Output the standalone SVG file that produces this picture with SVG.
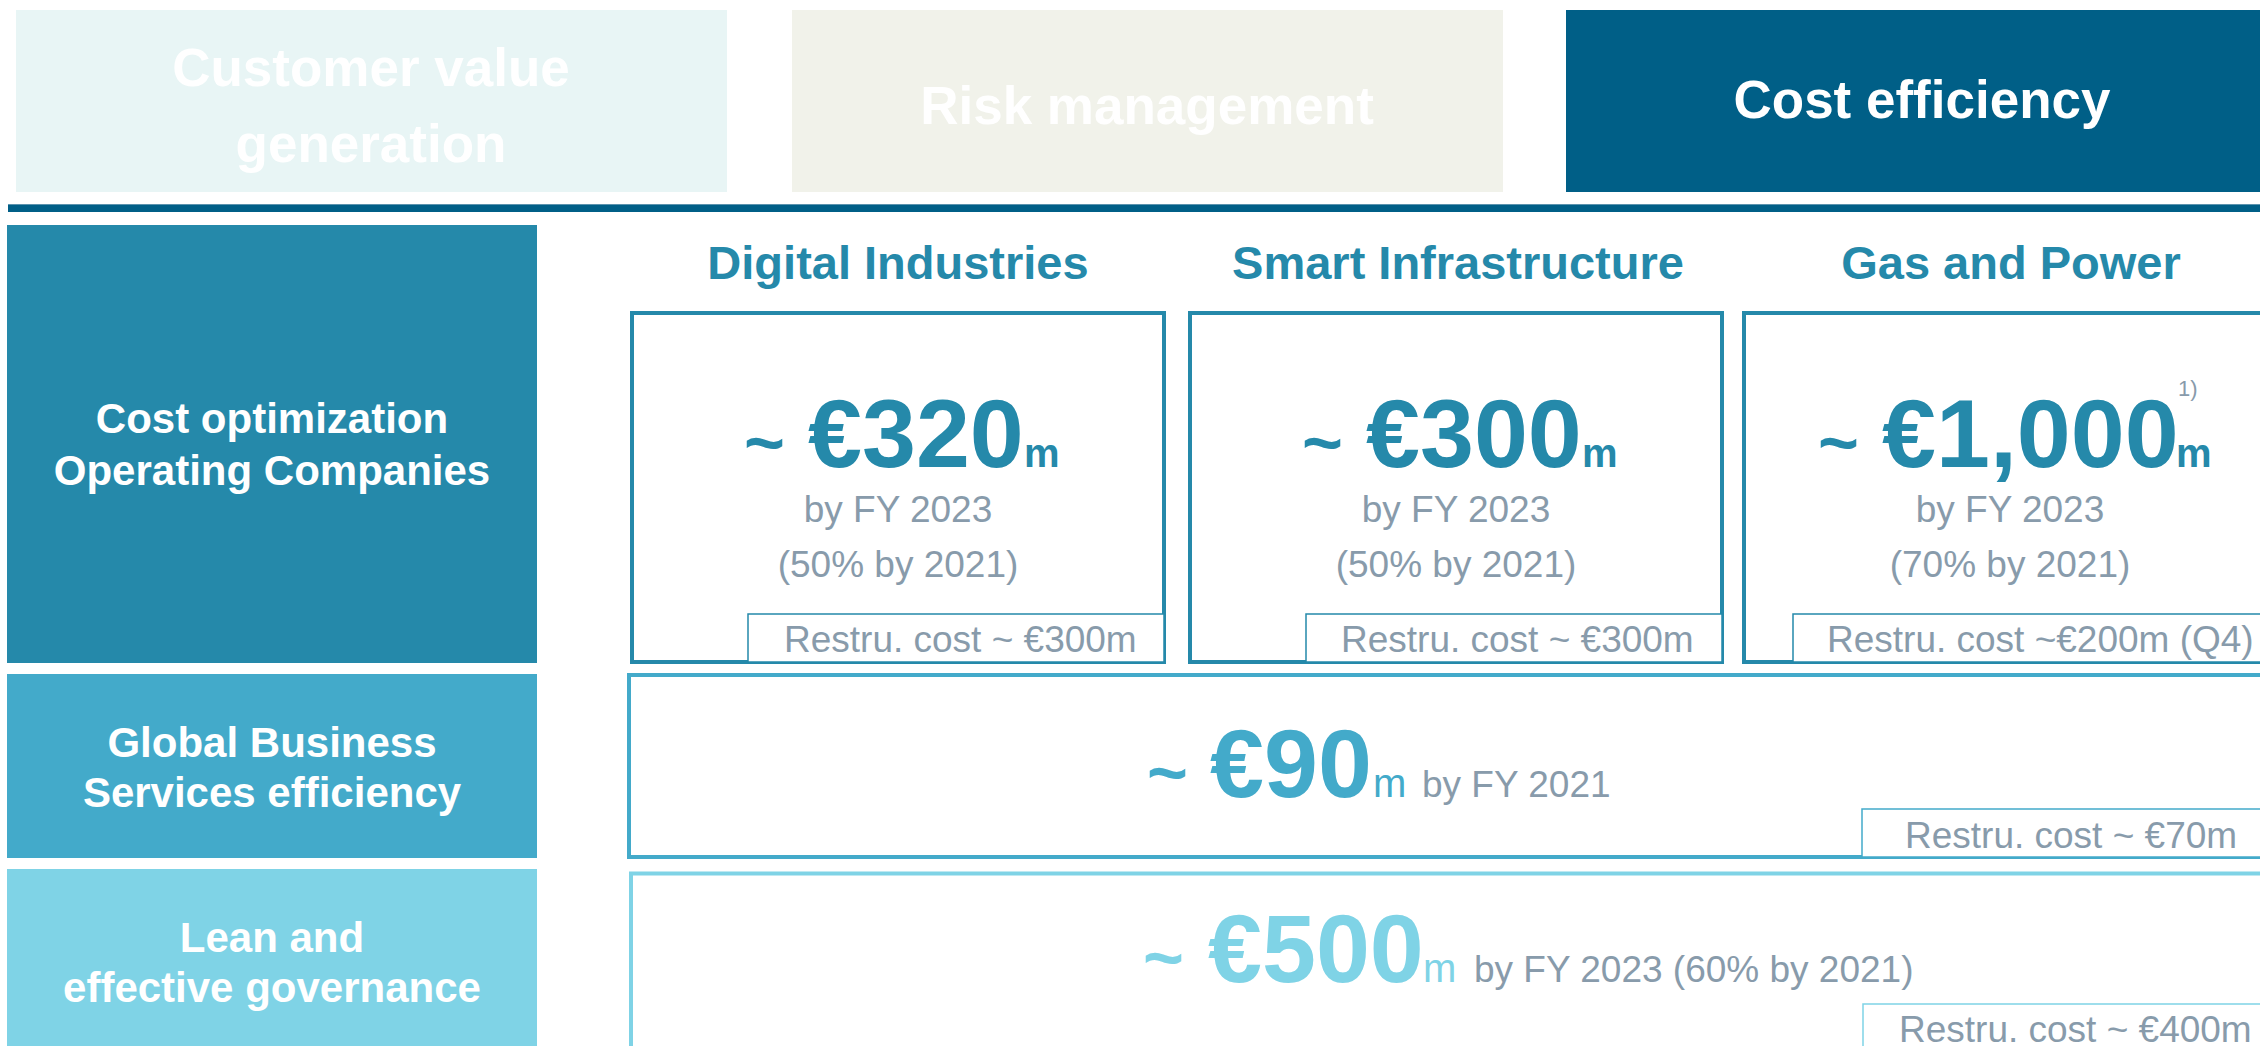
<svg xmlns="http://www.w3.org/2000/svg" width="2260" height="1046" viewBox="0 0 2260 1046">
<style>
  text { font-family: "Liberation Sans", Arial, sans-serif; }
  .top { font-size: 53px; font-weight: bold; fill: #ffffff; text-anchor: middle; }
  .lbl { font-size: 42px; font-weight: bold; fill: #ffffff; text-anchor: middle; }
  .seg { font-size: 47px; font-weight: bold; fill: #2589AA; text-anchor: middle; }
  .sub { font-size: 37px; fill: #889BAB; }
  .mid { text-anchor: middle; }
  .tilde { font-size: 70px; font-weight: bold; }
  .big { font-size: 97px; font-weight: bold; }
  .mb { font-size: 40px; font-weight: bold; }
  .mr { font-size: 40px; }
  .sup { font-size: 22px; fill: #889BAB; }
  .c1 { fill: #2589AA; }
  .c2 { fill: #43AACA; }
  .c3 { fill: #7FD3E6; }
  .box1 { fill: #ffffff; stroke: #2589AA; stroke-width: 4; }
  .box2 { fill: #ffffff; stroke: #43AACA; stroke-width: 4; }
  .box3 { fill: #ffffff; stroke: #7FD3E6; stroke-width: 4; }
  .rb1 { fill: #ffffff; stroke: #2589AA; stroke-width: 1.5; }
  .rb2 { fill: #ffffff; stroke: #43AACA; stroke-width: 1.5; }
  .rb3 { fill: #ffffff; stroke: #7FD3E6; stroke-width: 1.5; }
</style>
<rect x="0" y="0" width="2260" height="1046" fill="#ffffff"/>

<g id="tab-customer-value">
  <rect x="16" y="10" width="711" height="182" fill="#E8F5F5"/>
  <text class="top" x="371" y="86">Customer value</text>
  <text class="top" x="371" y="162">generation</text>
</g>
<g id="tab-risk-management">
  <rect x="792" y="10" width="711" height="182" fill="#F1F2EA"/>
  <text class="top" x="1147" y="124">Risk management</text>
</g>
<g id="tab-cost-efficiency">
  <rect x="1566" y="10" width="714" height="182" fill="#005F87"/>
  <text class="top" x="1922" y="118">Cost efficiency</text>
</g>
<g id="divider">
  <rect x="8" y="204" width="2252" height="8" fill="#005F87"/>
  <rect x="8" y="204" width="2252" height="1" fill="#5B93AE"/>
</g>

<g id="row-cost-optimization">
  <rect x="7" y="225" width="530" height="438" fill="#2589AA"/>
  <text class="lbl" x="272" y="433">Cost optimization</text>
  <text class="lbl" x="272" y="485">Operating Companies</text>
</g>
<g id="row-gbs">
  <rect x="7" y="674" width="530" height="184" fill="#43AACA"/>
  <text class="lbl" x="272" y="757">Global Business</text>
  <text class="lbl" x="272" y="807">Services efficiency</text>
</g>
<g id="row-lean">
  <rect x="7" y="869" width="530" height="190" fill="#7FD3E6"/>
  <text class="lbl" x="272" y="952">Lean and</text>
  <text class="lbl" x="272" y="1002">effective governance</text>
</g>

<g id="digital-industries">
  <text class="seg" x="898" y="279">Digital Industries</text>
  <rect class="box1" x="632" y="313" width="532" height="349"/>
  <text class="c1" y="467"><tspan class="tilde" x="744">~</tspan><tspan class="big" x="808">€320</tspan><tspan class="mb" x="1024">m</tspan></text>
  <text class="sub mid" x="898" y="522">by FY 2023</text>
  <text class="sub mid" x="898" y="577">(50% by 2021)</text>
  <rect class="rb1" x="748" y="614" width="416" height="48"/>
  <text class="sub" x="784" y="652">Restru. cost ~ €300m</text>
</g>

<g id="smart-infrastructure">
  <text class="seg" x="1458" y="279">Smart Infrastructure</text>
  <rect class="box1" x="1190" y="313" width="532" height="349"/>
  <text class="c1" y="467"><tspan class="tilde" x="1302">~</tspan><tspan class="big" x="1366">€300</tspan><tspan class="mb" x="1582">m</tspan></text>
  <text class="sub mid" x="1456" y="522">by FY 2023</text>
  <text class="sub mid" x="1456" y="577">(50% by 2021)</text>
  <rect class="rb1" x="1306" y="614" width="416" height="48"/>
  <text class="sub" x="1341" y="652">Restru. cost ~ €300m</text>
</g>

<g id="gas-and-power">
  <text class="seg" x="2011" y="279">Gas and Power</text>
  <rect class="box1" x="1744" y="313" width="532" height="349"/>
  <text class="c1 tilde" x="1818" y="467">~</text>
  <text class="c1 big" x="1882" y="467">€1,000</text>
  <text class="c1 mb" x="2176" y="467">m</text>
  <text class="sup" x="2178" y="396">1)</text>
  <text class="sub mid" x="2010" y="522">by FY 2023</text>
  <text class="sub mid" x="2010" y="577">(70% by 2021)</text>
  <rect class="rb1" x="1793" y="614" width="483" height="48"/>
  <text class="sub" x="1827" y="652">Restru. cost ~€200m (Q4)</text>
</g>

<g id="gbs-savings">
  <rect class="box2" x="629" y="675" width="1660" height="182"/>
  <text y="797"><tspan class="tilde c2" x="1147">~</tspan><tspan class="big c2" x="1210">€90</tspan><tspan class="mr c2" x="1373">m</tspan><tspan class="sub" x="1422">by FY 2021</tspan></text>
  <rect class="rb2" x="1862" y="809" width="420" height="48"/>
  <text class="sub" x="1905" y="848">Restru. cost ~ €70m</text>
</g>

<g id="lean-savings">
  <rect class="box3" x="631" y="873.5" width="1660" height="200"/>
  <text y="982"><tspan class="tilde c3" x="1143">~</tspan><tspan class="big c3" x="1208">€500</tspan><tspan class="mr c3" x="1423">m</tspan><tspan class="sub" x="1474">by FY 2023 (60% by 2021)</tspan></text>
  <rect class="rb3" x="1863" y="1004" width="420" height="60"/>
  <text class="sub" x="1899" y="1042">Restru. cost ~ €400m</text>
</g>

<g id="connectors"/>
</svg>
